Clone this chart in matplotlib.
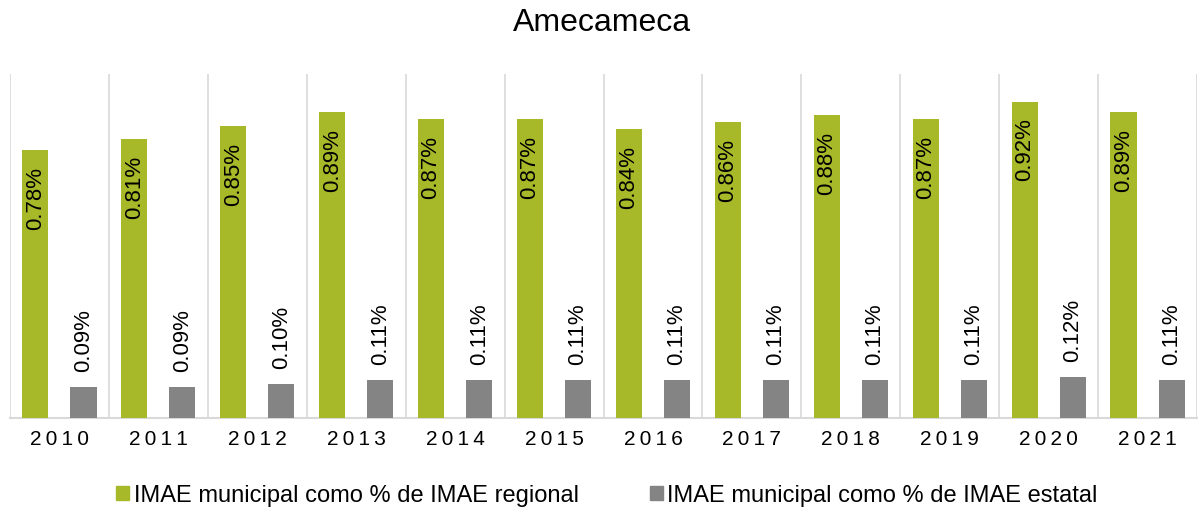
import matplotlib
matplotlib.use('Agg')
import matplotlib.pyplot as plt
from matplotlib.patches import Patch
import numpy as np

plt.rcParams['font.family'] = ['Liberation Sans', 'DejaVu Sans']

# Data (values in %)
title = 'Amecameca'
years = [2010, 2011, 2012, 2013, 2014, 2015, 2016, 2017, 2018, 2019, 2020, 2021]
regional = [0.78, 0.81, 0.85, 0.89, 0.87, 0.87, 0.84, 0.86, 0.88, 0.87, 0.92, 0.89]
estatal = [0.09, 0.09, 0.10, 0.11, 0.11, 0.11, 0.11, 0.11, 0.11, 0.11, 0.12, 0.11]
series_names = ['IMAE municipal como % de IMAE regional',
                'IMAE municipal como % de IMAE estatal']

green = '#A7B828'
gray = '#848484'
grid_col = '#D9D9D9'

fig = plt.figure(figsize=(11.98, 5.10), dpi=100)
ax = fig.add_axes([10 / 1198, 91 / 510, 1187 / 1198, 344 / 510])

x = np.arange(len(years))
off = 0.243
w = 0.263
b1 = ax.bar(x - off, regional, width=w, color=green, zorder=3)
b2 = ax.bar(x + off, estatal, width=w, color=gray, zorder=3)

# labels: regional inside the top, estatal above the bar
for rect, v in zip(b1, regional):
    ax.annotate(f'{v:.2f}%', (rect.get_x() + rect.get_width() / 2, rect.get_height()),
                xytext=(0, -11.5), textcoords='offset points', rotation=90,
                ha='center', va='top', fontsize=16, color='black', zorder=4)
for rect, v in zip(b2, estatal):
    ax.annotate(f'{v:.2f}%', (rect.get_x() + rect.get_width() / 2, rect.get_height()),
                xytext=(0, 11.5), textcoords='offset points', rotation=90,
                ha='center', va='bottom', fontsize=16, color='black', zorder=4)

ax.set_xlim(-0.5, len(years) - 0.5)
ax.set_ylim(0, 1.0)

# category separators
ax.set_xticks(np.arange(len(years) + 1) - 0.5, minor=True)
ax.grid(True, which='minor', axis='x', color=grid_col, linewidth=1.2, zorder=0)
ax.tick_params(which='minor', length=0)

ax.set_xticks(x)
ax.set_xticklabels(['\u2009'.join(str(y)) for y in years], fontsize=15, color='black')
ax.tick_params(axis='x', which='major', length=0, pad=8)
ax.set_yticks([])

for s in ['top', 'right', 'left']:
    ax.spines[s].set_visible(False)
ax.spines['bottom'].set_color(grid_col)
ax.spines['bottom'].set_linewidth(1.5)

fig.text(602 / 1198, 1 - 23 / 510, title, ha='center', va='center', fontsize=23)

handles = [Patch(color=green), Patch(color=gray)]
fig.legend(handles, series_names, loc='center', bbox_to_anchor=(607 / 1198, 14 / 510),
           ncol=2, frameon=False, fontsize=17, handlelength=0.55, handleheight=0.55,
           handletextpad=0.2, columnspacing=3.0, borderpad=0)

fig.savefig('out.png', dpi=100)
plt.close(fig)
